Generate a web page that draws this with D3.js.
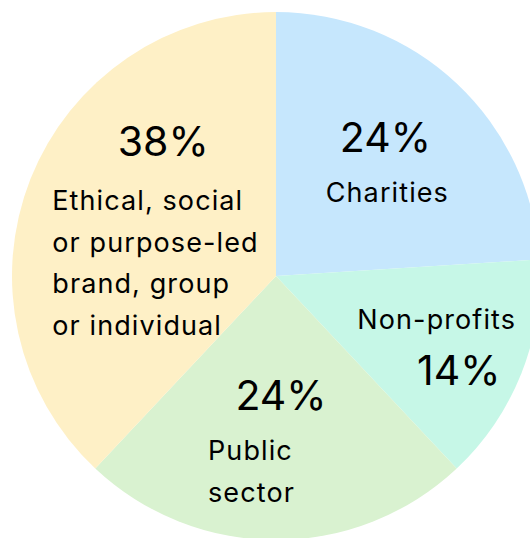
<!DOCTYPE html>
<html>
<head>
<meta charset="utf-8">
<script src="https://cdn.jsdelivr.net/npm/d3@7"></script>
<style>
    html, body { margin: 0; padding: 0; background: #ffffff; }
    svg { display: block; }
    text { font-family: Inter, "Open Sans", sans-serif; fill: #000000; }
</style>
</head>
<body>
<div id="chart"></div>
<script>
"use strict";

const categories = ["Charities", "Non-profits", "Public sector", "Ethical, social or purpose-led brand, group or individual"];
const shares = [24, 14, 24, 38];
const sliceColors = ["#c6e7fd", "#c6f7e7", "#d9f2d0", "#fef0c6"];

// label lines for each slice, in the order the reference draws them
const labelLines = [
    [{ text: "24%", big: true }, { text: "Charities" }],
    [{ text: "Non-profits" }, { text: "14%", big: true }],
    [{ text: "24%", big: true }, { text: "Public" }, { text: "sector" }],
    [{ text: "38%", big: true }, { text: "Ethical, social" }, { text: "or purpose-led" }, { text: "brand, group" }, { text: "or individual" }]
];

const WIDTH = 530;
const HEIGHT = 538;
const CX = 276;
const CY = 276;
const RADIUS = 264;

const BIG_FONT = 41;
const SMALL_FONT = 27;
const SMALL_SPACING = 1.1;

// offsets from each slice centroid: [dx, dy, anchor] per line
const labelOffsets = [
    [[19, -28, "middle"], [21, 22, "middle"]],
    [[38, 4, "middle"], [60, 60, "middle"]],
    [[5, 2, "middle"], [-68, 52, "start"], [-68, 94, "start"]],
    [[10, -71, "middle"], [-101, -17, "start"], [-101, 25, "start"], [-101, 66, "start"], [-101, 108, "start"]]
];

const svg = d3
    .select("#chart")
    .append("svg")
    .attr("width", WIDTH)
    .attr("height", HEIGHT);

const pie = d3.pie().sort(null).value(d => d);
const arcs = pie(shares);

const arc = d3.arc().innerRadius(0).outerRadius(RADIUS);

const g = svg.append("g").attr("transform", `translate(${CX}, ${CY})`);

g.selectAll(".slice")
    .data(arcs)
    .enter()
    .append("path")
    .classed("slice", true)
    .attr("d", arc)
    .attr("fill", (_, i) => sliceColors[i])
    .attr("stroke", "none")
    .append("title")
    .text((d, i) => `${categories[i]}: ${shares[i]}%`);

arcs.forEach((d, i) => {
    const [x, y] = arc.centroid(d);
    labelLines[i].forEach((line, j) => {
        const [dx, dy, anchor] = labelOffsets[i][j];
        g.append("text")
            .attr("x", x + dx)
            .attr("y", y + dy)
            .attr("text-anchor", anchor)
            .attr("font-size", line.big ? BIG_FONT : SMALL_FONT)
            .attr("letter-spacing", line.big ? 0 : SMALL_SPACING)
            .text(line.text);
    });
});
</script>
</body>
</html>
